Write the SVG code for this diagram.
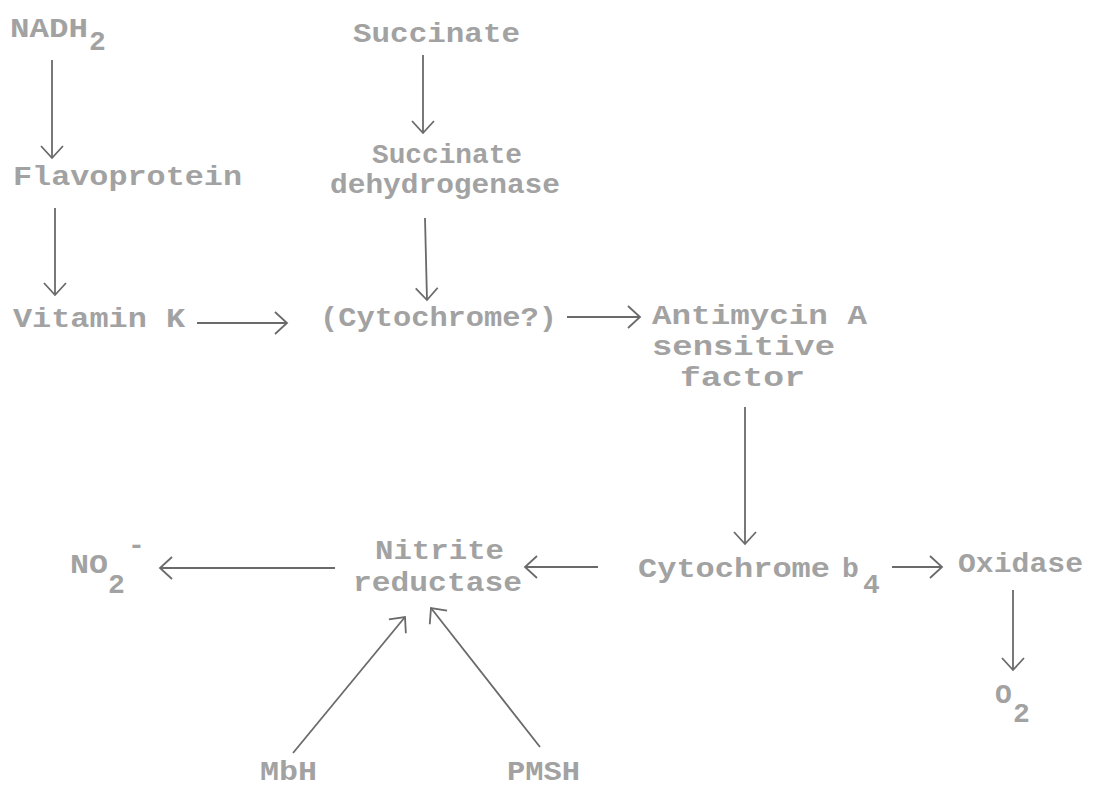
<svg xmlns="http://www.w3.org/2000/svg" width="1093" height="790" viewBox="0 0 1093 790">
<defs>
<style>
.t{font-family:"Liberation Mono","DejaVu Sans Mono",monospace;font-weight:bold;font-size:28px;fill:#a2a2a2}
.c line{stroke:#6a6a6a;stroke-width:1.8;fill:none;marker-end:url(#ah)}
</style>
<marker id="ah" markerUnits="userSpaceOnUse" markerWidth="30" markerHeight="30" refX="15" refY="15" orient="auto" viewBox="0 0 30 30">
<path d="M3,4 L15,15 L3,26" fill="none" stroke="#6a6a6a" stroke-width="1.8"/>
</marker>
</defs>
<rect width="1093" height="790" fill="#ffffff"/>
<g class="c" id="connectors">
<line x1="52" y1="60" x2="52" y2="158"/>
<line x1="55" y1="208" x2="55" y2="295"/>
<line x1="423" y1="55" x2="423" y2="133"/>
<line x1="425" y1="218" x2="427" y2="300"/>
<line x1="197" y1="323" x2="287" y2="323"/>
<line x1="567" y1="317" x2="640" y2="317"/>
<line x1="745" y1="407" x2="745" y2="544"/>
<line x1="892" y1="567" x2="942" y2="567"/>
<line x1="1013" y1="590" x2="1013" y2="670"/>
<line x1="598" y1="567" x2="525" y2="567"/>
<line x1="335" y1="568" x2="160" y2="568"/>
<line x1="293" y1="753" x2="405" y2="617"/>
<line x1="540" y1="747" x2="431" y2="608"/>
</g>
<g id="nadh2"><text class="t" x="10" y="37" textLength="78" lengthAdjust="spacingAndGlyphs">NADH</text><text class="t" x="89" y="50">2</text></g>
<g id="succinate"><text class="t" x="353" y="42" textLength="167" lengthAdjust="spacingAndGlyphs">Succinate</text></g>
<g id="flavoprotein"><text class="t" x="13" y="185" textLength="229" lengthAdjust="spacingAndGlyphs">Flavoprotein</text></g>
<g id="sdh"><text class="t" x="372" y="163" textLength="150" lengthAdjust="spacingAndGlyphs">Succinate</text><text class="t" x="330" y="193" textLength="230" lengthAdjust="spacingAndGlyphs">dehydrogenase</text></g>
<g id="vitk"><text class="t" x="13" y="327" textLength="172" lengthAdjust="spacingAndGlyphs">Vitamin K</text></g>
<g id="cytq"><text class="t" x="320" y="326" textLength="237" lengthAdjust="spacingAndGlyphs">(Cytochrome?)</text></g>
<g id="antimycin"><text class="t" x="652" y="324" textLength="215" lengthAdjust="spacingAndGlyphs">Antimycin A</text><text class="t" x="652" y="355" textLength="183" lengthAdjust="spacingAndGlyphs">sensitive</text><text class="t" x="680" y="386" textLength="125" lengthAdjust="spacingAndGlyphs">factor</text></g>
<g id="cytb4"><text class="t" x="638" y="577" textLength="192" lengthAdjust="spacingAndGlyphs">Cytochrome</text><text class="t" x="842" y="577">b</text><text class="t" x="863" y="593">4</text></g>
<g id="oxidase"><text class="t" x="958" y="572" textLength="125" lengthAdjust="spacingAndGlyphs">Oxidase</text></g>
<g id="o2"><text class="t" x="995" y="703">O</text><text class="t" x="1013" y="722">2</text></g>
<g id="nitrite"><text class="t" x="375" y="559" textLength="129" lengthAdjust="spacingAndGlyphs">Nitrite</text><text class="t" x="353" y="591" textLength="169" lengthAdjust="spacingAndGlyphs">reductase</text></g>
<g id="no2"><text class="t" x="70" y="573" textLength="38" lengthAdjust="spacingAndGlyphs">NO</text><text class="t" x="108" y="593">2</text><text class="t" x="128" y="554">-</text></g>
<g id="mbh"><text class="t" x="260" y="780" textLength="57" lengthAdjust="spacingAndGlyphs">MbH</text></g>
<g id="pmsh"><text class="t" x="507" y="780" textLength="73" lengthAdjust="spacingAndGlyphs">PMSH</text></g>
</svg>
